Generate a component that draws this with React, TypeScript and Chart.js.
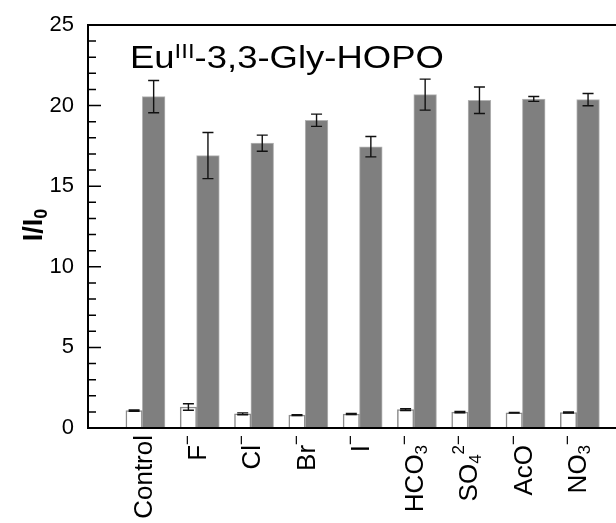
import React, { useEffect, useRef } from 'react';
import { Chart, registerables } from 'chart.js';

Chart.register(...registerables);

// ---- data ----
const categories = ['Control', 'F', 'Cl', 'Br', 'I', 'HCO', 'SO', 'AcO', 'NO'];
const categorySubscripts = ['', '', '', '', '', '3', '4', '', '3'];
const categorySuperscripts = ['', '−', '−', '−', '−', '−', '2−', '−', '−'];

const baselineValues = [1.08, 1.3, 0.88, 0.8, 0.87, 1.14, 0.98, 0.94, 0.96];
const baselineErrors = [0.04, 0.2, 0.06, 0.03, 0.03, 0.05, 0.04, 0.02, 0.03];
const responseValues = [20.56, 16.9, 17.67, 19.09, 17.45, 20.68, 20.33, 20.41, 20.37];
const responseErrors = [1.0, 1.43, 0.5, 0.38, 0.63, 0.96, 0.82, 0.15, 0.38];

const yMin = 0;
const yMax = 25;
const yStep = 5;
const yMinorStep = 1;

const titleMain = 'Eu';
const titleSup = 'III';
const titleRest = '-3,3-Gly-HOPO';
const yTitleMain = 'I/I';
const yTitleSub = '0';

const FONT = '"Liberation Sans", Arial, sans-serif';

type Part = { text: string; kind: 'n' | 'sub' | 'sup' };

function partFont(p: Part, size: number, weight: string) {
  const s = p.kind === 'n' ? size : Math.round(size * 0.65);
  return `${weight} ${s}px ${FONT}`;
}
function partShift(p: Part, size: number, supShift: number, subShift: number) {
  if (p.kind === 'sub') return size * subShift;
  if (p.kind === 'sup') return -size * supShift;
  return 0;
}
function measureRich(ctx: CanvasRenderingContext2D, parts: Part[], size: number, weight: string) {
  let w = 0;
  for (const p of parts) {
    ctx.font = partFont(p, size, weight);
    w += ctx.measureText(p.text).width;
  }
  return w;
}
function fillRich(
  ctx: CanvasRenderingContext2D,
  parts: Part[],
  x: number,
  y: number,
  size: number,
  weight: string,
  supShift = 0.5,
  subShift = 0.15
) {
  let cx = x;
  for (const p of parts) {
    ctx.font = partFont(p, size, weight);
    ctx.fillText(p.text, cx, y + partShift(p, size, supShift, subShift));
    cx += ctx.measureText(p.text).width;
  }
}

const decorPlugin = {
  id: 'decor',
  afterDatasetsDraw(chart: any) {
    const ctx: CanvasRenderingContext2D = chart.ctx;
    const ys = chart.scales.y;
    const area = chart.chartArea;
    ctx.save();
    // error bars
    const errSets = [baselineErrors, responseErrors];
    const valSets = [baselineValues, responseValues];
    ctx.strokeStyle = '#111';
    ctx.lineWidth = 1.4;
    errSets.forEach((errs, di) => {
      const meta = chart.getDatasetMeta(di);
      meta.data.forEach((bar: any, i: number) => {
        const v = valSets[di][i];
        const e = errs[i];
        const yt = ys.getPixelForValue(v + e);
        const yb = ys.getPixelForValue(v - e);
        const x = bar.x;
        const hw = 5.5;
        ctx.beginPath();
        ctx.moveTo(x, yt);
        ctx.lineTo(x, yb);
        ctx.moveTo(x - hw, yt);
        ctx.lineTo(x + hw, yt);
        ctx.moveTo(x - hw, yb);
        ctx.lineTo(x + hw, yb);
        ctx.stroke();
      });
    });
    // frame
    ctx.strokeStyle = '#000';
    ctx.lineWidth = 2;
    ctx.beginPath();
    ctx.moveTo(area.left, area.top);
    ctx.lineTo(area.right, area.top);
    ctx.lineTo(area.right, area.bottom);
    ctx.lineTo(area.left, area.bottom);
    ctx.closePath();
    ctx.stroke();
    // inward ticks on y
    ctx.lineWidth = 1.5;
    for (let v = yMin; v <= yMax; v += yMinorStep) {
      const y = ys.getPixelForValue(v);
      const len = v % yStep === 0 ? 13 : 8;
      ctx.beginPath();
      ctx.moveTo(area.left, y);
      ctx.lineTo(area.left + len, y);
      ctx.moveTo(area.right, y);
      ctx.lineTo(area.right - len, y);
      ctx.stroke();
    }
    ctx.restore();
  },
  afterDraw(chart: any) {
    const ctx: CanvasRenderingContext2D = chart.ctx;
    const xs = chart.scales.x;
    const area = chart.chartArea;
    ctx.save();
    ctx.fillStyle = '#000';
    ctx.textBaseline = 'alphabetic';
    ctx.textAlign = 'left';
    // category labels (rotated)
    const ls = 26;
    categories.forEach((c, i) => {
      const parts: Part[] = [{ text: c, kind: 'n' }];
      if (categorySubscripts[i]) parts.push({ text: categorySubscripts[i], kind: 'sub' });
      if (categorySuperscripts[i]) parts.push({ text: categorySuperscripts[i], kind: 'sup' });
      const x = xs.getPixelForValue(i);
      const w = measureRich(ctx, parts, ls, 'normal');
      ctx.save();
      ctx.translate(x, area.bottom + 7);
      ctx.rotate(-Math.PI / 2);
      fillRich(ctx, parts, -w, 0.358 * ls, ls, 'normal', 0.5, 0.15);
      ctx.restore();
    });
    // y title
    const ts = 27;
    const yParts: Part[] = [
      { text: yTitleMain, kind: 'n' },
      { text: yTitleSub, kind: 'sub' },
    ];
    const yw = measureRich(ctx, yParts, ts, 'bold');
    ctx.save();
    ctx.translate(24, 217);
    ctx.rotate(-Math.PI / 2);
    fillRich(ctx, yParts, -yw / 2, 0.358 * ts, ts, 'bold', 0.5, 0.2);
    ctx.restore();
    // chart title (slightly wide, as in the source figure)
    const hs = 32;
    const tParts: Part[] = [
      { text: titleMain, kind: 'n' },
      { text: titleSup, kind: 'sup' },
      { text: titleRest, kind: 'n' },
    ];
    ctx.save();
    ctx.translate(122, 60);
    ctx.scale(1.14, 1);
    fillRich(ctx, tParts, 0, 0, hs, 'normal', 0.32, 0.15);
    ctx.restore();
    ctx.restore();
  },
};

export default function App() {
  const ref = useRef<HTMLCanvasElement>(null);
  useEffect(() => {
    const canvas = ref.current!;
    const chart = new Chart(canvas, {
      type: 'bar',
      data: {
        datasets: [
          {
            label: 'I/I0 without anion',
            data: baselineValues.map((v, i) => ({ x: i, y: v })),
            backgroundColor: '#ffffff',
            borderColor: '#8c8c8c',
            borderWidth: 1.5,
            barThickness: 16.4,
          },
          {
            label: 'I/I0 with anion',
            data: responseValues.map((v, i) => ({ x: i, y: v })),
            backgroundColor: '#7f7f7f',
            borderColor: '#b4b4b4',
            borderWidth: 1,
            barThickness: 22.7,
          },
        ],
      },
      options: {
        responsive: false,
        animation: false,
        layout: { padding: { top: 0, right: 7, left: 0, bottom: 0 } },
        plugins: { legend: { display: false }, tooltip: { enabled: false }, title: { display: false } },
        scales: {
          x: {
            type: 'linear',
            min: -1,
            max: 9,
            offset: false,
            grid: { display: false },
            border: { display: false },
            ticks: { display: false, stepSize: 1 },
            afterFit: (s: any) => {
              s.height = 95;
            },
          },
          y: {
            min: yMin,
            max: yMax,
            grid: { display: false },
            border: { display: false },
            ticks: {
              stepSize: yStep,
              color: '#000',
              padding: 6,
              font: { family: FONT, size: 22, lineHeight: 1 },
            },
            afterFit: (s: any) => {
              s.width = 80;
            },
          },
        },
      } as any,
      plugins: [decorPlugin],
    });
    return () => chart.destroy();
  }, []);
  return (
    <div style={{ position: 'absolute', left: 8, top: 8, width: 608, height: 515, overflow: 'hidden' }}>
      <canvas ref={ref} width={630} height={515} style={{ display: 'block', width: 630, height: 515 }} />
    </div>
  );
}
